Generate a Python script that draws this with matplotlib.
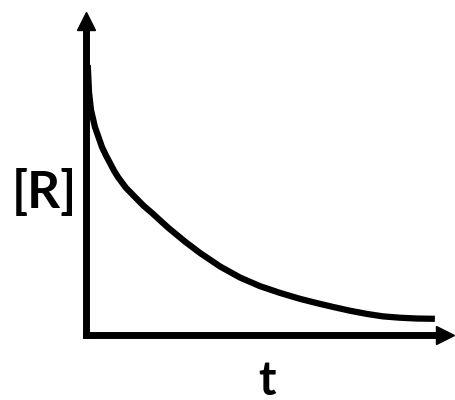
import matplotlib.pyplot as plt

# points (arbitrary units)
t = [0.05, 0.086, 0.143, 0.257, 0.457, 0.571, 0.686, 0.8, 0.914, 1.143, 1.40,
     1.643, 1.886, 2.343, 2.829, 3.257, 3.829, 4.4, 4.971, 5.543, 6.114, 6.6,
     7.057, 7.543, 8.029, 8.486, 8.971, 9.457, 9.971]
R = [10.0, 9.0, 8.33, 7.70, 6.96, 6.65, 6.37, 6.09, 5.85, 5.45, 5.11,
     4.79, 4.52, 3.98, 3.46, 3.04, 2.54, 2.13, 1.81, 1.56, 1.34, 1.18,
     1.04, 0.90, 0.78, 0.69, 0.64, 0.61, 0.60]

xlabel = 't'
ylabel = '[R]'

fig = plt.figure(figsize=(4.55, 4.0), dpi=100)
ax = fig.add_axes([0.189, 0.1625, 0.789, 0.785])

ax.plot(t, R, color='black', lw=4.5, solid_capstyle='butt', solid_joinstyle='round')
ax.set_xlim(0, 10.26)
ax.set_ylim(0, 11.63)

for side in ['top', 'right']:
    ax.spines[side].set_visible(False)
for side in ['left', 'bottom']:
    ax.spines[side].set_linewidth(5)
    ax.spines[side].set_capstyle('projecting')
ax.set_xticks([])
ax.set_yticks([])

# arrow heads on the axes
ax.plot(1, 0, '>k', ms=13, transform=ax.get_yaxis_transform(), clip_on=False)
ax.plot(0, 1, '^k', ms=13, transform=ax.get_xaxis_transform(), clip_on=False)

fig.text(44 / 455, 1 - 193 / 400, ylabel, ha='center', va='center',
         fontsize=37, fontweight='bold', family=['Lato', 'DejaVu Sans'])
fig.text(267 / 455, 1 - 395 / 400, xlabel, ha='center', va='baseline',
         fontsize=34, fontweight='bold', family=['Lato', 'DejaVu Sans'])

fig.savefig('out.png', dpi=100)
